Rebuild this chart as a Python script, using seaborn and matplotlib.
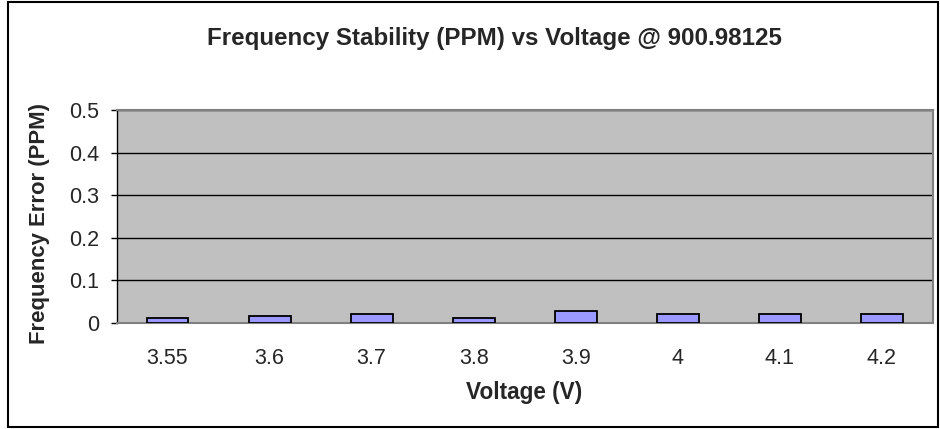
import pandas as pd
import matplotlib
matplotlib.use("Agg")
import matplotlib.pyplot as plt
import seaborn as sns
from matplotlib.patches import Rectangle
from matplotlib.ticker import FixedLocator

# data
voltages = ["3.55", "3.6", "3.7", "3.8", "3.9", "4", "4.1", "4.2"]
ppm_error = [0.0111, 0.0166, 0.0222, 0.0111, 0.0277, 0.0222, 0.0222, 0.0222]
y_ticks = [0, 0.1, 0.2, 0.3, 0.4, 0.5]

df = pd.DataFrame({"Voltage": voltages, "PPM": ppm_error})

sns.set_style("white", {"axes.facecolor": "#C0C0C0"})
plt.rcParams["font.family"] = ["Liberation Sans", "DejaVu Sans"]

fig = plt.figure(figsize=(9.4, 4.29), dpi=100)
ax = fig.add_axes([116.5 / 940, 1 - 323 / 429, (933 - 116.5) / 940, (323 - 110) / 429])

sns.barplot(data=df, x="Voltage", y="PPM", color="#9999FF", width=0.41,
            edgecolor="black", linewidth=1.3, saturation=1, ax=ax, zorder=3)

ax.set_ylim(0, 0.5)
ax.set_xlim(-0.5, len(voltages) - 0.5)
ax.set_yticks(y_ticks)
ax.set_yticklabels(["0", "0.1", "0.2", "0.3", "0.4", "0.5"])
ax.yaxis.grid(True, color="black", linewidth=1, zorder=1)
ax.set_axisbelow(True)

# category boundary ticks on x, no marks under labels
ax.xaxis.set_minor_locator(FixedLocator([i - 0.5 for i in range(len(voltages) + 1)]))
ax.tick_params(axis="x", which="major", length=0, pad=18, labelsize=15.5)
ax.tick_params(axis="x", which="minor", length=4.3, width=1, color="black", direction="out")
ax.tick_params(axis="y", which="major", length=4.3, width=1, color="black", direction="out",
               pad=8, labelsize=15.5, left=True)

for side, sp in ax.spines.items():
    sp.set_color("#808080")
    sp.set_linewidth(1.5)
ax.spines["left"].set_color("black")
ax.spines["left"].set_linewidth(1)

ax.set_xlabel("")
ax.set_ylabel("")
fig.text(524 / 940, 1 - 393 / 429, "Voltage (V)", fontsize=16.3, fontweight="bold",
         ha="center", va="center")
fig.text(40 / 940, 1 - 223 / 429, "Frequency Error (PPM)", fontsize=15.9, fontweight="bold",
         ha="center", va="center", rotation=90)
fig.text(494 / 940, 1 - 38 / 429, "Frequency Stability (PPM) vs Voltage @ 900.98125",
         fontsize=17.4, fontweight="bold", ha="center", va="center")

# outer chart border
fig.patches.append(Rectangle((8 / 940, 2 / 429), 930 / 940, 425 / 429, transform=fig.transFigure,
                             fill=False, edgecolor="black", linewidth=1.5))

fig.savefig("out.png", dpi=100)
